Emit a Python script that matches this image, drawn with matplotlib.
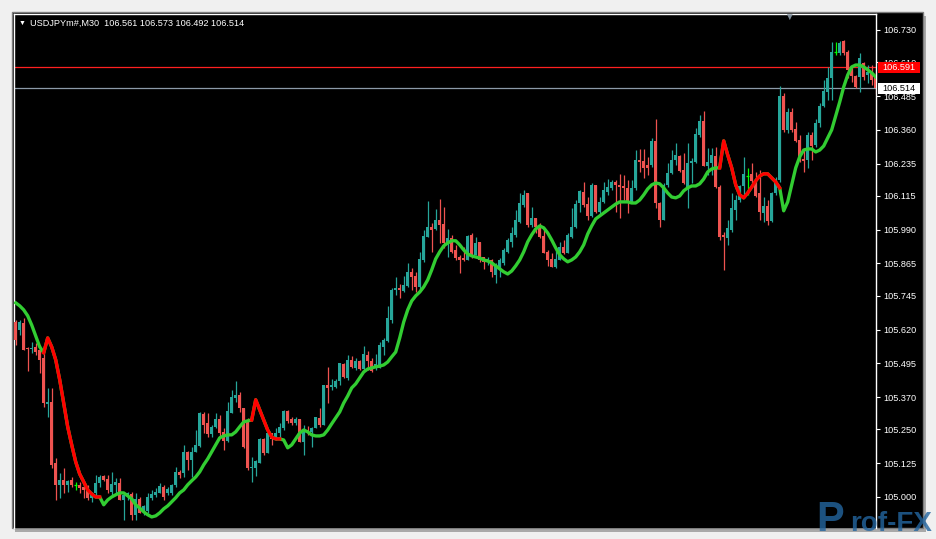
"""USDJPY M30 candle chart with a two-colour trend line, MT4 style."""

import numpy as np
import matplotlib
matplotlib.use("Agg")
import matplotlib.pyplot as plt
import matplotlib.transforms as mtransforms
from matplotlib.patches import Rectangle

plt.rcParams["font.family"] = ["Liberation Sans", "DejaVu Sans"]

SYMBOL = "USDJPYm#,M30"
LAST_BAR = [106.561, 106.573, 106.492, 106.514]
ASK = 106.591
BID = 106.514
PRICE_TICKS = [106.730, 106.610, 106.485, 106.360, 106.235, 106.115, 105.990,
               105.865, 105.745, 105.620, 105.495, 105.370, 105.250, 105.125, 105.000]

OPEN = [
    105.648, 105.619, 105.645, 105.552, 105.548, 105.556, 105.545, 105.515, 105.345, 105.352,
    105.126, 105.045, 105.063, 105.045, 105.063, 105.045, 105.045, 105.037, 105.030, 104.997,
    105.015, 105.052, 105.078, 105.067, 105.019, 105.045, 105.052, 104.989, 105.000, 105.011,
    104.934, 104.993, 104.945, 104.948, 104.997, 105.008, 105.015, 105.037, 105.015, 105.015,
    105.045, 105.093, 105.089, 105.167, 105.137, 105.167, 105.189, 105.308, 105.274, 105.234,
    105.260, 105.289, 105.241, 105.208, 105.311, 105.367, 105.378, 105.330, 105.282, 105.108,
    105.108, 105.126, 105.215, 105.163, 105.237, 105.215, 105.237, 105.256, 105.319, 105.289,
    105.274, 105.289, 105.204, 105.248, 105.241, 105.256, 105.293, 105.267, 105.415, 105.408,
    105.408, 105.430, 105.493, 105.441, 105.508, 105.478, 105.504, 105.474, 105.526, 105.504,
    105.478, 105.478, 105.556, 105.578, 105.656, 105.767, 105.774, 105.763, 105.782, 105.834,
    105.819, 105.778, 105.878, 105.963, 106.000, 105.993, 106.026, 106.011, 105.941, 105.960,
    105.915, 105.889, 105.885, 105.878, 105.971, 105.897, 105.945, 105.889, 105.871, 105.878,
    105.822, 105.852, 105.867, 105.908, 105.945, 105.971, 106.019, 106.082, 106.126, 106.008,
    106.034, 106.008, 105.967, 105.908, 105.882, 105.852, 105.878, 105.926, 105.904, 105.963,
    106.000, 106.089, 106.130, 106.085, 106.041, 106.156, 106.056, 106.093, 106.130, 106.145,
    106.167, 106.156, 106.152, 106.145, 106.093, 106.145, 106.248, 106.245, 106.230, 106.230,
    106.319, 106.089, 106.026, 106.156, 106.200, 106.248, 106.263, 106.211, 106.145, 106.237,
    106.241, 106.341, 106.393, 106.226, 106.237, 106.263, 106.148, 105.971, 105.960, 105.989,
    106.063, 106.100, 106.152, 106.189, 106.197, 106.171, 106.126, 106.052, 106.078, 106.023,
    106.126, 106.174, 106.485, 106.360, 106.426, 106.363, 106.323, 106.252, 106.248, 106.341,
    106.304, 106.385, 106.448, 106.500, 106.552, 106.648, 106.645, 106.689, 106.648, 106.582,
    106.560, 106.556, 106.608, 106.563, 106.574, 106.561,
]
HIGH = [
    105.656, 105.656, 105.663, 105.556, 105.574, 105.571, 105.563, 105.545, 105.404, 105.404,
    105.145, 105.089, 105.108, 105.063, 105.074, 105.056, 105.056, 105.052, 105.045, 105.019,
    105.082, 105.082, 105.082, 105.082, 105.093, 105.071, 105.071, 105.019, 105.019, 105.019,
    105.015, 105.000, 104.971, 105.015, 105.026, 105.034, 105.052, 105.045, 105.037, 105.048,
    105.111, 105.100, 105.193, 105.171, 105.185, 105.248, 105.315, 105.315, 105.311, 105.267,
    105.311, 105.304, 105.256, 105.352, 105.397, 105.430, 105.389, 105.330, 105.293, 105.148,
    105.137, 105.219, 105.219, 105.241, 105.237, 105.256, 105.274, 105.323, 105.323, 105.297,
    105.297, 105.289, 105.267, 105.263, 105.260, 105.297, 105.330, 105.415, 105.482, 105.437,
    105.437, 105.497, 105.497, 105.526, 105.522, 105.515, 105.508, 105.560, 105.541, 105.515,
    105.530, 105.574, 105.589, 105.708, 105.774, 105.815, 105.789, 105.819, 105.867, 105.848,
    105.834, 105.908, 105.989, 106.097, 106.015, 106.067, 106.104, 106.074, 105.993, 105.971,
    105.934, 105.897, 105.926, 105.971, 105.978, 105.963, 105.945, 105.889, 105.889, 105.882,
    105.867, 105.885, 105.923, 105.960, 106.000, 106.063, 106.126, 106.137, 106.126, 106.074,
    106.034, 106.015, 105.989, 105.915, 105.904, 105.923, 105.945, 105.952, 105.978, 106.071,
    106.100, 106.137, 106.167, 106.111, 106.163, 106.156, 106.111, 106.167, 106.178, 106.174,
    106.174, 106.197, 106.193, 106.174, 106.174, 106.285, 106.289, 106.289, 106.260, 106.330,
    106.400, 106.093, 106.163, 106.237, 106.285, 106.311, 106.267, 106.274, 106.311, 106.256,
    106.367, 106.415, 106.430, 106.293, 106.293, 106.297, 106.156, 105.982, 106.026, 106.126,
    106.119, 106.156, 106.260, 106.219, 106.237, 106.204, 106.211, 106.111, 106.100, 106.130,
    106.185, 106.522, 106.497, 106.441, 106.441, 106.389, 106.341, 106.293, 106.352, 106.352,
    106.400, 106.460, 106.545, 106.593, 106.685, 106.685, 106.689, 106.693, 106.656, 106.593,
    106.563, 106.645, 106.611, 106.600, 106.600, 106.573,
]
LOW = [
    105.563, 105.600, 105.545, 105.467, 105.534, 105.526, 105.460, 105.334, 105.297, 105.108,
    104.989, 104.997, 105.015, 105.019, 105.037, 105.026, 105.015, 104.997, 104.989, 104.982,
    105.008, 105.037, 105.060, 105.015, 105.008, 105.015, 104.989, 104.915, 104.989, 104.915,
    104.915, 104.941, 104.934, 104.941, 104.989, 105.000, 105.015, 104.989, 105.008, 105.008,
    105.037, 105.071, 105.074, 105.100, 105.074, 105.167, 105.185, 105.237, 105.222, 105.222,
    105.256, 105.222, 105.174, 105.204, 105.311, 105.352, 105.315, 105.182, 105.100, 105.056,
    105.078, 105.126, 105.156, 105.163, 105.193, 105.211, 105.211, 105.248, 105.274, 105.267,
    105.267, 105.204, 105.156, 105.230, 105.185, 105.256, 105.260, 105.267, 105.348, 105.397,
    105.404, 105.415, 105.441, 105.434, 105.478, 105.471, 105.471, 105.471, 105.471, 105.463,
    105.471, 105.478, 105.526, 105.574, 105.645, 105.748, 105.737, 105.759, 105.778, 105.767,
    105.759, 105.759, 105.871, 105.963, 105.908, 105.989, 105.941, 105.923, 105.889, 105.904,
    105.878, 105.830, 105.874, 105.878, 105.885, 105.897, 105.871, 105.845, 105.860, 105.815,
    105.793, 105.815, 105.860, 105.904, 105.926, 105.963, 106.015, 106.074, 106.000, 106.000,
    105.978, 105.960, 105.904, 105.856, 105.852, 105.848, 105.878, 105.900, 105.904, 105.960,
    105.997, 106.056, 106.074, 106.026, 106.037, 106.052, 106.045, 106.089, 106.119, 106.137,
    106.056, 106.034, 106.100, 106.052, 106.093, 106.137, 106.204, 106.182, 106.193, 106.222,
    106.071, 106.000, 106.026, 106.148, 106.197, 106.230, 106.204, 106.160, 106.071, 106.163,
    106.237, 106.334, 106.226, 106.193, 106.193, 106.145, 105.952, 105.841, 105.934, 105.982,
    106.026, 106.093, 106.119, 106.119, 106.163, 106.111, 106.026, 106.019, 106.008, 106.019,
    106.119, 106.167, 106.352, 106.348, 106.352, 106.315, 106.241, 106.204, 106.219, 106.248,
    106.297, 106.371, 106.445, 106.471, 106.471, 106.637, 106.637, 106.637, 106.552, 106.537,
    106.515, 106.500, 106.545, 106.534, 106.526, 106.492,
]
CLOSE = [
    105.582, 105.648, 105.545, 105.548, 105.552, 105.537, 105.508, 105.348, 105.352, 105.119,
    105.045, 105.063, 105.045, 105.060, 105.045, 105.045, 105.034, 105.026, 104.997, 105.015,
    105.052, 105.074, 105.063, 105.026, 105.048, 105.056, 104.989, 105.008, 105.015, 104.934,
    104.993, 104.941, 104.967, 105.000, 105.011, 105.019, 105.041, 105.000, 105.030, 105.045,
    105.093, 105.082, 105.167, 105.137, 105.167, 105.193, 105.311, 105.267, 105.234, 105.260,
    105.289, 105.237, 105.208, 105.319, 105.371, 105.378, 105.330, 105.185, 105.108, 105.111,
    105.134, 105.215, 105.163, 105.237, 105.215, 105.237, 105.260, 105.319, 105.282, 105.274,
    105.289, 105.204, 105.248, 105.241, 105.256, 105.297, 105.267, 105.415, 105.404, 105.415,
    105.430, 105.497, 105.445, 105.508, 105.482, 105.504, 105.474, 105.530, 105.504, 105.467,
    105.493, 105.563, 105.582, 105.663, 105.767, 105.774, 105.767, 105.785, 105.834, 105.815,
    105.778, 105.882, 105.967, 106.000, 105.989, 106.026, 106.008, 105.941, 105.960, 105.908,
    105.885, 105.878, 105.878, 105.967, 105.889, 105.941, 105.878, 105.871, 105.882, 105.834,
    105.860, 105.878, 105.915, 105.952, 105.978, 106.026, 106.089, 106.119, 106.008, 106.034,
    106.000, 105.963, 105.904, 105.878, 105.852, 105.882, 105.926, 105.904, 105.971, 106.000,
    106.085, 106.134, 106.082, 106.041, 106.156, 106.056, 106.093, 106.137, 106.148, 106.167,
    106.156, 106.148, 106.145, 106.093, 106.145, 106.248, 106.241, 106.219, 106.219, 106.319,
    106.089, 106.026, 106.156, 106.200, 106.248, 106.267, 106.208, 106.163, 106.237, 106.245,
    106.345, 106.393, 106.226, 106.241, 106.267, 106.148, 105.963, 105.963, 105.997, 106.071,
    106.100, 106.152, 106.197, 106.189, 106.171, 106.115, 106.056, 106.078, 106.023, 106.126,
    106.178, 106.485, 106.360, 106.426, 106.360, 106.319, 106.248, 106.245, 106.341, 106.300,
    106.385, 106.448, 106.504, 106.552, 106.648, 106.648, 106.682, 106.645, 106.582, 106.560,
    106.519, 106.626, 106.556, 106.574, 106.545, 106.514,
]
# smoothed trend line, red where the indicator flags a down-swing
MA = [
    105.719, 105.708, 105.693, 105.671, 105.637, 105.597, 105.556, 105.534, 105.589, 105.556,
    105.508, 105.434, 105.348, 105.260, 105.193, 105.130, 105.085, 105.056, 105.026, 105.011,
    105.000, 105.000, 104.971, 104.989, 105.000, 105.008, 105.015, 105.015, 105.004, 104.993,
    104.971, 104.959, 104.945, 104.934, 104.926, 104.930, 104.941, 104.956, 104.967, 104.982,
    104.997, 105.015, 105.026, 105.045, 105.060, 105.074, 105.093, 105.119, 105.141, 105.167,
    105.193, 105.219, 105.226, 105.230, 105.230, 105.241, 105.260, 105.278, 105.282, 105.285,
    105.360, 105.323, 105.285, 105.248, 105.222, 105.215, 105.215, 105.211, 105.182, 105.193,
    105.215, 105.237, 105.248, 105.241, 105.230, 105.226, 105.226, 105.230, 105.248, 105.271,
    105.293, 105.315, 105.348, 105.374, 105.404, 105.419, 105.441, 105.463, 105.474, 105.478,
    105.482, 105.485, 105.489, 105.500, 105.519, 105.537, 105.589, 105.648, 105.693, 105.726,
    105.745, 105.759, 105.778, 105.804, 105.841, 105.882, 105.908, 105.930, 105.941, 105.949,
    105.949, 105.934, 105.915, 105.900, 105.893, 105.889, 105.885, 105.878, 105.874, 105.867,
    105.856, 105.845, 105.834, 105.826, 105.837, 105.856, 105.878, 105.908, 105.945, 105.971,
    105.993, 106.004, 105.997, 105.978, 105.952, 105.923, 105.897, 105.882, 105.871, 105.878,
    105.889, 105.908, 105.934, 105.974, 106.004, 106.030, 106.041, 106.052, 106.063, 106.074,
    106.085, 106.093, 106.093, 106.093, 106.089, 106.089, 106.100, 106.119, 106.141, 106.156,
    106.163, 106.160, 106.145, 106.126, 106.111, 106.108, 106.115, 106.134, 106.145, 106.152,
    106.152, 106.160, 106.178, 106.204, 106.215, 106.219, 106.219, 106.319, 106.267, 106.219,
    106.156, 106.119, 106.108, 106.126, 106.148, 106.171, 106.189, 106.197, 106.197, 106.182,
    106.167, 106.145, 106.060, 106.093, 106.156, 106.219, 106.260, 106.285, 106.289, 106.289,
    106.278, 106.285, 106.300, 106.330, 106.360, 106.411, 106.463, 106.519, 106.563, 106.593,
    106.600, 106.600, 106.593, 106.582, 106.571, 106.556,
]
MA_DOWN_SPANS = [(7, 21), (59, 66), (176, 191)]

BULL = "#26a69a"
BEAR = "#ef5350"
DOJI = "#00ff00"
MA_UP = "#32cd32"
MA_DOWN = "#ff0000"

W, H = 936, 539


def fx(px):
    return px / W


def fy(py):
    return 1 - py / H


fig = plt.figure(figsize=(W / 100, H / 100), dpi=100, facecolor="#f0f0f0")

# window frame with a little drop shadow (kept below the axes)
fig.patches.append(Rectangle((fx(15), fy(532)), fx(923) - fx(12), fy(12) - fy(528),
                             transform=fig.transFigure, fc="#a9a9a9", ec="none", zorder=-3))
fig.patches.append(Rectangle((fx(12), fy(528)), fx(923) - fx(12), fy(12) - fy(528),
                             transform=fig.transFigure, fc="black", ec="#7c7c7c", lw=1, zorder=-2))

ax = fig.add_axes([fx(14), fy(528), fx(876) - fx(14), fy(14) - fy(528)])
ax.set_facecolor("black")

x = np.arange(len(CLOSE))
o, h, l, c = (np.array(a) for a in (OPEN, HIGH, LOW, CLOSE))
colors = np.where(c > o, BULL, np.where(c < o, BEAR, DOJI))

ax.vlines(x, l, h, colors=colors, linewidth=0.9, zorder=2)
ax.bar(x, c - o, bottom=o, width=0.76, color=colors, linewidth=0, zorder=3)
doji = c == o
ax.hlines(c[doji], x[doji] - 0.4, x[doji] + 0.4, colors=DOJI, linewidth=0.9, zorder=3)

ma = np.array(MA)
ax.plot(x, ma, color=MA_UP, lw=2.4, zorder=4)
for a, b in MA_DOWN_SPANS:
    ax.plot(x[a:b + 1], ma[a:b + 1], color=MA_DOWN, lw=2.4, zorder=5)

ax.axhline(ASK, color="#ff2020", lw=0.9, zorder=1)
ax.axhline(BID, color="#8c9aa8", lw=0.9, zorder=1)

ax.set_xlim(-0.425, 215.075)
ax.set_ylim(104.885, 106.789)
ax.set_xticks([])
ax.yaxis.tick_right()
ax.set_yticks(PRICE_TICKS)
ax.set_yticklabels([f"{t:.3f}" for t in PRICE_TICKS])
ax.tick_params(axis="y", colors="white", length=3, width=0.8, pad=2, labelsize=6.6)
for side in ("top", "left", "right"):
    ax.spines[side].set_color("white")
    ax.spines[side].set_linewidth(1)
ax.spines["bottom"].set_visible(False)

# ask / bid price labels on the scale
trans = mtransforms.blended_transform_factory(fig.transFigure, ax.transData)
for price, fc, tc in ((ASK, "#ff0000", "white"), (BID, "white", "black")):
    ax.add_patch(Rectangle((fx(878), price - 0.021), fx(920) - fx(878), 0.042,
                           transform=trans, fc=fc, ec="none", clip_on=False, zorder=6))
    ax.text(fx(899), price, f"{price:.3f}", transform=trans, ha="center", va="center",
            color=tc, fontsize=6.6, clip_on=False, zorder=7)

# header line
fig.text(fx(19), fy(23), "\u25bc", color="white", fontsize=5, va="center")
fig.text(fx(30), fy(23), SYMBOL + "  " + " ".join(f"{v:.3f}" for v in LAST_BAR),
         color="white", fontsize=6.6, va="center")
# chart shift marker
fig.text(fx(789), fy(17), "\u25bc", color="#7d8b98", fontsize=7, ha="center", va="center")

# watermark
fig.text(fx(816), fy(531), "P", color="#2466a0", alpha=0.8, fontsize=30,
         fontweight="bold", va="baseline")
fig.text(fx(850), fy(531), "rof-FX", color="#2466a0", alpha=0.8, fontsize=20,
         fontweight="bold", va="baseline")

fig.savefig("out.png", dpi=100, facecolor=fig.get_facecolor())
